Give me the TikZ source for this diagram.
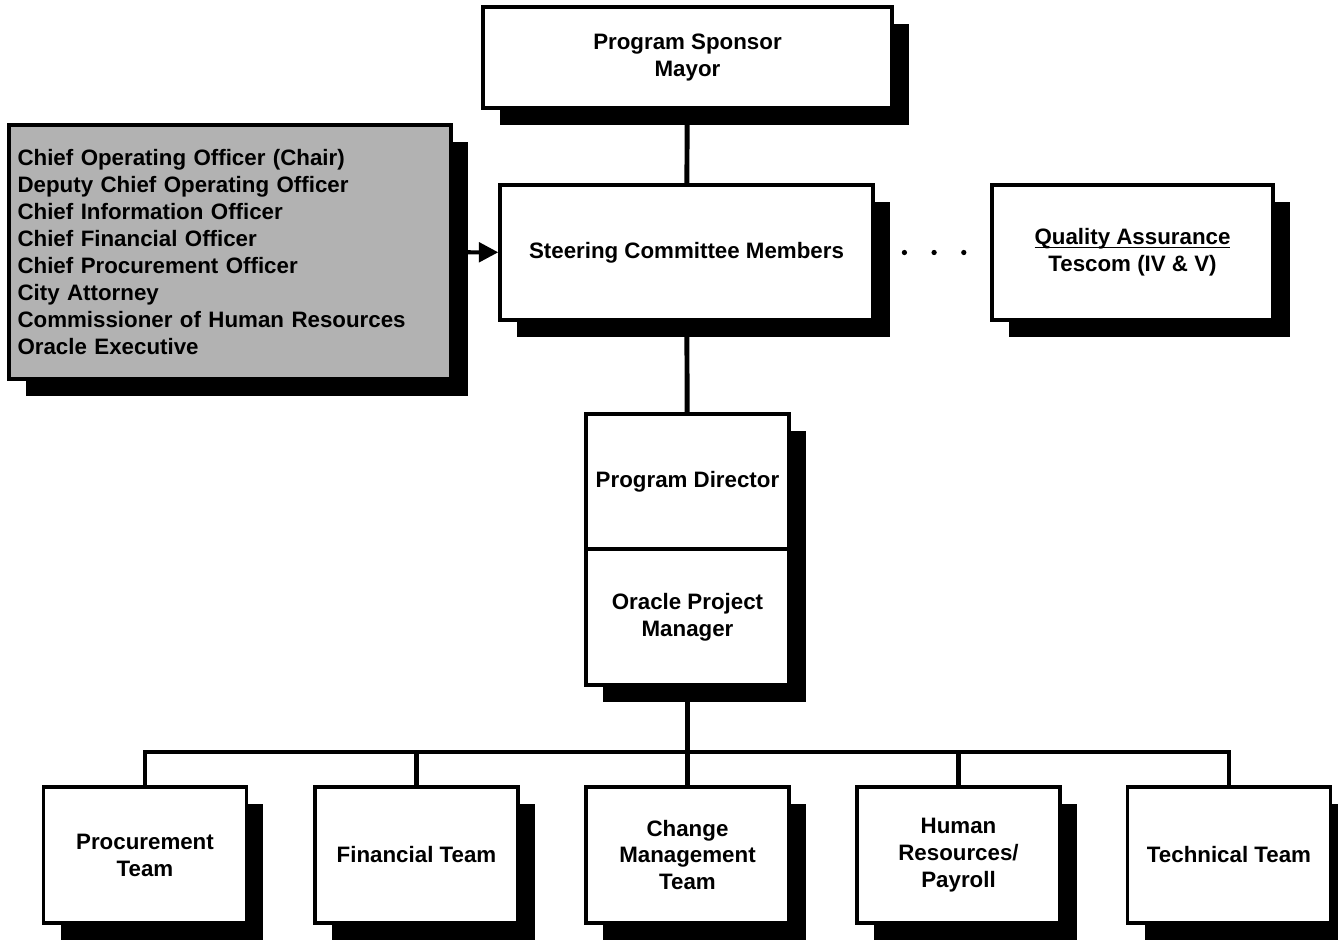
\documentclass[tikz,border=0pt]{standalone}
\usepackage{fontspec}
\setmainfont{Liberation Sans}
\usetikzlibrary{arrows.meta, positioning, shadows}
\newcommand{\ulined}[1]{\setbox0\hbox{#1}\rlap{\rule[-1.9pt]{\wd0}{0.9pt}}\box0}

\begin{document}
\begin{tikzpicture}[
      x=0.02cm, y=-0.02cm,
      font=\fontsize{12.7}{15.3}\selectfont\bfseries,
      box/.style={draw, line width=2pt, fill=white, align=center, inner sep=0pt,
        minimum width=4.06cm, minimum height=2.72cm,
        drop shadow={shadow xshift=0.34cm, shadow yshift=-0.34cm, fill=black, opacity=1}},
      grp/.style={box, fill=black!30, align=left, text width=8.5cm, minimum width=8.84cm, minimum height=5.08cm},
      link/.style={line width=2.8pt},
      ar/.style={-{Triangle[length=11pt, width=11pt]}, line width=2.3pt},
      dots/.style={line width=3pt, line cap=round, dash pattern=on 0pt off 16.9pt}
    ]
    \useasboundingbox (0,0) rectangle (1338,940);
    \node[box, minimum width=8.18cm, minimum height=2.02cm] (sponsor) at (687.5,57.5) {Program Sponsor\\Mayor};
    \node[box, minimum width=7.46cm, minimum height=2.7cm] (steer) at (686.5,252.5) {Steering Committee Members};
    \node[grp] (members) at (230,252) {Chief Operating Officer (Chair)\\Deputy Chief Operating Officer\\Chief Information Officer\\Chief Financial Officer\\Chief Procurement Officer\\City Attorney\\Commissioner of Human Resources\\Oracle Executive};
    \node[box, minimum width=5.62cm, minimum height=2.7cm] (qa) at (1132.5,252.5) {\ulined{Quality Assurance}\\Tescom (IV \& V)};
    \node[box, minimum height=2.7cm] (pd) at (687.5,481.5) {Program Director};
    \node[box] (opm) at (687.5,617) {Oracle Project\\Manager};
    % teams
    \node[box] (proc) at (145,855) {Procurement\\Team};
    \node[box] (fin) at (416.5,855) {Financial Team};
    \node[box] (chg) at (687.5,855) {Change\\Management\\Team};
    \node[box] (hr) at (958.5,855) {Human\\Resources/\\Payroll};
    \node[box] (tech) at (1229,855) {Technical Team};
    \coordinate (bus) at (687.5,752);
    \draw[link] (sponsor) -- (steer); \draw[link] (steer) -- (pd);
    \draw[link] (opm) -- (bus);
    \foreach \t in {proc, fin, chg, hr, tech}
      \draw[link] (bus) -| (\t.north);
    \draw[ar] (members) -- (steer);
    \draw[dots] (steer.east) -- (qa.west);
  \end{tikzpicture}
\end{document}
